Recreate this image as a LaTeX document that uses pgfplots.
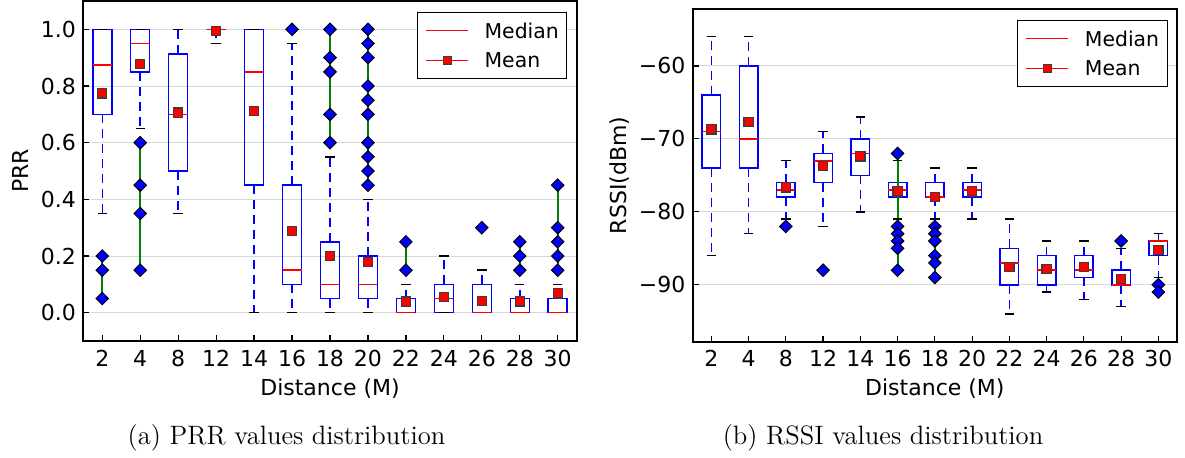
\documentclass[border=0pt]{standalone}
\usepackage{fontspec}
\usepackage{pgfplots}
\usepackage{pgfplotstable}
\pgfplotsset{compat=1.18}
\usepgfplotslibrary{statistics}
\newfontfamily\djv{DejaVu Sans}
\definecolor{mblue}{RGB}{0,0,255}
\definecolor{mred}{RGB}{255,0,0}
\definecolor{mgreen}{RGB}{0,128,0}
\definecolor{mgrid}{RGB}{215,215,215}
\definecolor{medge}{RGB}{60,60,60}

% PRR: position, lower whisker, lower quartile, median, upper quartile, upper whisker, mean
\pgfplotstableread{
pos lw lq med uq uw mean
0 0.35 0.70 0.875 1.00 1.00 0.774
1 0.65 0.85 0.95 1.00 1.00 0.877
2 0.35 0.50 0.70 0.9125 1.00 0.706
3 0.95 1.00 1.00 1.00 1.00 0.994
4 0.00 0.45 0.85 1.00 1.00 0.712
5 0.00 0.10 0.15 0.45 0.95 0.289
6 0.00 0.05 0.10 0.25 0.55 0.201
7 0.00 0.05 0.10 0.20 0.40 0.178
8 0.00 0.00 0.00 0.05 0.10 0.039
9 0.00 0.00 0.05 0.10 0.20 0.056
10 0.00 0.00 0.00 0.10 0.15 0.041
11 0.00 0.00 0.00 0.05 0.10 0.040
12 0.00 0.00 0.00 0.05 0.10 0.068
}\prrdata

% RSSI (dBm)
\pgfplotstableread{
pos lw lq med uq uw mean
0 -86 -74 -69 -64 -56 -68.7
1 -83 -74 -70 -60 -56 -67.7
2 -81 -78 -77 -76 -73 -76.65
3 -82 -76 -73 -72 -69 -73.7
4 -80 -75 -72 -70 -67 -72.4
5 -81 -78 -77 -76 -73 -77.2
6 -81 -78 -78 -76 -74 -78.0
7 -81 -78 -77 -76 -74 -77.2
8 -94 -90 -87 -85 -81 -87.6
9 -91 -90 -88 -86 -84 -87.8
10 -92 -89 -88 -86 -84 -87.6
11 -93 -90 -90 -88 -85 -89.2
12 -89 -86 -84 -84 -83 -85.2
}\rssidata

\pgfplotsset{
  mybox/.style={
    scale only axis,
    xmin=-0.5, xmax=12.5,
    xtick={0,...,12},
    xticklabels={2,4,8,12,14,16,18,20,22,24,26,28,30},
    tick align=inside,
    tick pos=left,
    major tick length=3pt,
    tick style={black, line width=0.6pt},
    axis line style={line width=0.8pt},
    ymajorgrids,
    major grid style={mgrid, line width=0.5pt},
    ticklabel style={font=\djv\fontsize{11}{13}\selectfont},
    xticklabel style={anchor=base, yshift=-12.5pt},
    yticklabel style={anchor=east, inner sep=0pt, xshift=-3.5pt},
    every axis x label/.style={at={(axis description cs:0.5,0)}, anchor=base, yshift=-27pt, font=\djv\fontsize{11}{13}\selectfont},
    boxplot/draw direction=y,
    legend style={at={(1,1)}, anchor=north east, xshift=-4.7pt, yshift=-5.3pt,
      draw=black, line width=0.5pt, fill=white,
      font=\djv\fontsize{10.2}{12}\selectfont,
      inner xsep=4pt, inner ysep=2pt, row sep=0.5pt, column sep=8pt,
      nodes={inner xsep=0pt, inner ysep=3.4pt, text depth=0pt},
      cells={anchor=west}},
    legend image code/.code={\draw[mark repeat=2,mark phase=2,##1] plot coordinates {(0pt,0pt) (10.5pt,0pt) (21pt,0pt)};},
  },
  bx/.style={mblue, line width=0.75pt, forget plot,
    boxplot/box extend=0.5, boxplot/whisker extend=0,
    boxplot/every box/.style={draw=mblue},
    boxplot/every whisker/.style={draw=mblue, dash pattern=on 4.5pt off 3pt},
    boxplot/every median/.style={draw=mred}},
  capstyle/.style={only marks, mark=-, mark size=2.35pt, mark options={black, line width=0.7pt, solid}, forget plot},
  flier/.style={mgreen, line width=1pt, forget plot, mark=square*, mark size=2.2pt,
    mark options={rotate=45, fill=mblue, draw=black, line width=0.5pt, solid}},
  meanstyle/.style={only marks, mark=square*, mark size=2.3pt, mark options={fill=mred, draw=medge, line width=0.6pt}, forget plot},
}

\begin{document}
\begin{tikzpicture}
\useasboundingbox (0,0) rectangle (592.5pt,228.5pt);

% ---------------- (a) PRR ----------------
\begin{axis}[mybox,
  at={(41.65pt,58pt)}, anchor=south west,
  width=246.7pt, height=170pt,
  ymin=-0.1, ymax=1.1,
  ytick={0,0.2,0.4,0.6,0.8,1.0},
  yticklabels={0.0,0.2,0.4,0.6,0.8,1.0},
  xlabel={Distance (M)}, ylabel={PRR},
  every axis y label/.style={at={(axis description cs:-0.1113,0.5)}, rotate=90, anchor=base, font=\djv\fontsize{11}{13}\selectfont},
]
\addplot[bx, boxplot prepared={draw position=0, lower whisker=0.35, lower quartile=0.70, median=0.875, upper quartile=1.00, upper whisker=1.00}] coordinates {};
\addplot[bx, boxplot prepared={draw position=1, lower whisker=0.65, lower quartile=0.85, median=0.95, upper quartile=1.00, upper whisker=1.00}] coordinates {};
\addplot[bx, boxplot prepared={draw position=2, lower whisker=0.35, lower quartile=0.50, median=0.70, upper quartile=0.9125, upper whisker=1.00}] coordinates {};
\addplot[bx, boxplot prepared={draw position=3, lower whisker=0.95, lower quartile=1.00, median=1.00, upper quartile=1.00, upper whisker=1.00}] coordinates {};
\addplot[bx, boxplot prepared={draw position=4, lower whisker=0.00, lower quartile=0.45, median=0.85, upper quartile=1.00, upper whisker=1.00}] coordinates {};
\addplot[bx, boxplot prepared={draw position=5, lower whisker=0.00, lower quartile=0.10, median=0.15, upper quartile=0.45, upper whisker=0.95}] coordinates {};
\addplot[bx, boxplot prepared={draw position=6, lower whisker=0.00, lower quartile=0.05, median=0.10, upper quartile=0.25, upper whisker=0.55}] coordinates {};
\addplot[bx, boxplot prepared={draw position=7, lower whisker=0.00, lower quartile=0.05, median=0.10, upper quartile=0.20, upper whisker=0.40}] coordinates {};
\addplot[bx, boxplot prepared={draw position=8, lower whisker=0.00, lower quartile=0.00, median=0.00, upper quartile=0.05, upper whisker=0.10}] coordinates {};
\addplot[bx, boxplot prepared={draw position=9, lower whisker=0.00, lower quartile=0.00, median=0.05, upper quartile=0.10, upper whisker=0.20}] coordinates {};
\addplot[bx, boxplot prepared={draw position=10, lower whisker=0.00, lower quartile=0.00, median=0.00, upper quartile=0.10, upper whisker=0.15}] coordinates {};
\addplot[bx, boxplot prepared={draw position=11, lower whisker=0.00, lower quartile=0.00, median=0.00, upper quartile=0.05, upper whisker=0.10}] coordinates {};
\addplot[bx, boxplot prepared={draw position=12, lower whisker=0.00, lower quartile=0.00, median=0.00, upper quartile=0.05, upper whisker=0.10}] coordinates {};
\addplot[capstyle] table[x=pos, y=lw] {\prrdata};
\addplot[capstyle] table[x=pos, y=uw] {\prrdata};
\addplot[only marks, mark=-, mark size=4.74pt, mark options={mred, line width=0.75pt}, forget plot] table[x=pos, y=med] {\prrdata};
% outliers
\addplot[flier] coordinates {(0,0.05) (0,0.15) (0,0.2)};
\addplot[flier] coordinates {(1,0.15) (1,0.35) (1,0.45) (1,0.6)};
\addplot[flier] coordinates {(5,1.0)};
\addplot[flier] coordinates {(6,0.6) (6,0.7) (6,0.85) (6,0.9) (6,1.0)};
\addplot[flier] coordinates {(7,0.45) (7,0.5) (7,0.55) (7,0.6) (7,0.7) (7,0.75) (7,0.8) (7,0.9) (7,0.95) (7,1.0)};
\addplot[flier] coordinates {(8,0.15) (8,0.25)};
\addplot[flier] coordinates {(10,0.3)};
\addplot[flier] coordinates {(11,0.15) (11,0.2) (11,0.25)};
\addplot[flier] coordinates {(12,0.15) (12,0.2) (12,0.25) (12,0.3) (12,0.45)};
\addplot[meanstyle] table[x=pos, y=mean] {\prrdata};
\addlegendimage{mred, line width=0.6pt}
\addlegendentry{Median}
\addlegendimage{mred, line width=0.6pt, mark=square*, mark size=2pt, mark options={fill=mred, draw=medge, line width=0.5pt}}
\addlegendentry{Mean}
\end{axis}

% ---------------- (b) RSSI ----------------
\begin{axis}[mybox,
  at={(346.35pt,57.65pt)}, anchor=south west,
  width=242.15pt, height=166.35pt,
  ymin=-97.8, ymax=-52.2,
  ytick={-90,-80,-70,-60},
  yticklabels={−90,−80,−70,−60},
  xlabel={Distance (M)}, ylabel={RSSI(dBm)},
  every axis y label/.style={at={(axis description cs:-0.1377,0.5)}, rotate=90, anchor=base, font=\djv\fontsize{11}{13}\selectfont},
]
\addplot[bx, boxplot prepared={draw position=0, lower whisker=-86, lower quartile=-74, median=-69, upper quartile=-64, upper whisker=-56}] coordinates {};
\addplot[bx, boxplot prepared={draw position=1, lower whisker=-83, lower quartile=-74, median=-70, upper quartile=-60, upper whisker=-56}] coordinates {};
\addplot[bx, boxplot prepared={draw position=2, lower whisker=-81, lower quartile=-78, median=-77, upper quartile=-76, upper whisker=-73}] coordinates {};
\addplot[bx, boxplot prepared={draw position=3, lower whisker=-82, lower quartile=-76, median=-73, upper quartile=-72, upper whisker=-69}] coordinates {};
\addplot[bx, boxplot prepared={draw position=4, lower whisker=-80, lower quartile=-75, median=-72, upper quartile=-70, upper whisker=-67}] coordinates {};
\addplot[bx, boxplot prepared={draw position=5, lower whisker=-81, lower quartile=-78, median=-77, upper quartile=-76, upper whisker=-73}] coordinates {};
\addplot[bx, boxplot prepared={draw position=6, lower whisker=-81, lower quartile=-78, median=-78, upper quartile=-76, upper whisker=-74}] coordinates {};
\addplot[bx, boxplot prepared={draw position=7, lower whisker=-81, lower quartile=-78, median=-77, upper quartile=-76, upper whisker=-74}] coordinates {};
\addplot[bx, boxplot prepared={draw position=8, lower whisker=-94, lower quartile=-90, median=-87, upper quartile=-85, upper whisker=-81}] coordinates {};
\addplot[bx, boxplot prepared={draw position=9, lower whisker=-91, lower quartile=-90, median=-88, upper quartile=-86, upper whisker=-84}] coordinates {};
\addplot[bx, boxplot prepared={draw position=10, lower whisker=-92, lower quartile=-89, median=-88, upper quartile=-86, upper whisker=-84}] coordinates {};
\addplot[bx, boxplot prepared={draw position=11, lower whisker=-93, lower quartile=-90, median=-90, upper quartile=-88, upper whisker=-85}] coordinates {};
\addplot[bx, boxplot prepared={draw position=12, lower whisker=-89, lower quartile=-86, median=-84, upper quartile=-84, upper whisker=-83}] coordinates {};
\addplot[capstyle] table[x=pos, y=lw] {\rssidata};
\addplot[capstyle] table[x=pos, y=uw] {\rssidata};
\addplot[only marks, mark=-, mark size=4.66pt, mark options={mred, line width=0.75pt}, forget plot] table[x=pos, y=med] {\rssidata};
% outliers
\addplot[flier] coordinates {(2,-82)};
\addplot[flier] coordinates {(3,-88)};
\addplot[flier] coordinates {(5,-72) (5,-82) (5,-83) (5,-84) (5,-85) (5,-88)};
\addplot[flier] coordinates {(6,-82) (6,-83) (6,-84) (6,-86) (6,-87) (6,-89)};
\addplot[flier] coordinates {(11,-84)};
\addplot[flier] coordinates {(12,-90) (12,-91)};
\addplot[meanstyle] table[x=pos, y=mean] {\rssidata};
\addlegendimage{mred, line width=0.6pt}
\addlegendentry{Median}
\addlegendimage{mred, line width=0.6pt, mark=square*, mark size=2pt, mark options={fill=mred, draw=medge, line width=0.5pt}}
\addlegendentry{Mean}
\end{axis}

\node[font=\fontsize{13.3}{15}\selectfont, anchor=base] at (143.25pt,6.5pt) {(a) PRR values distribution};
\node[font=\fontsize{13.3}{15}\selectfont, anchor=base] at (441.5pt,6.5pt) {(b) RSSI values distribution};
\end{tikzpicture}
\end{document}
